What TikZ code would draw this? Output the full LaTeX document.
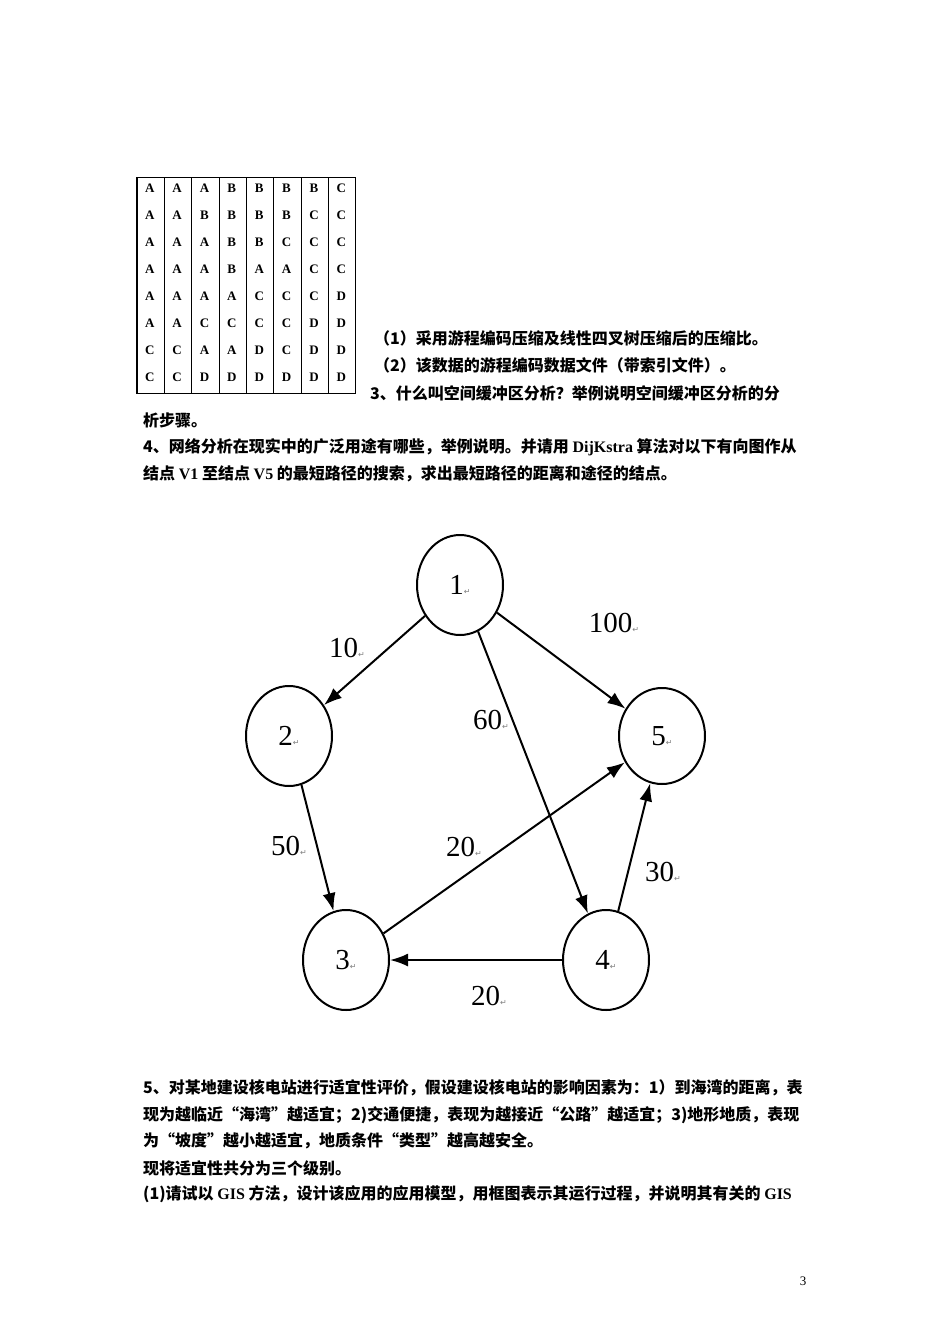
\documentclass[tikz,border=0pt]{standalone}
\usepackage{fontspec}
\usetikzlibrary{shapes.geometric,arrows.meta}
\setmainfont{Liberation Serif}
\newfontfamily\cjk{Noto Sans CJK SC}
\newfontfamily\dv{DejaVu Sans}
\newcommand{\rt}{{\dv\fontsize{8}{8}\selectfont\textcolor{gray}{↵}}}
\begin{document}
\begin{tikzpicture}[x=1pt,y=-1pt,
  txt/.style={anchor=west,inner sep=0pt,font=\cjk\bfseries\fontsize{16}{16}\selectfont},
  cell/.style={inner sep=0pt,font=\bfseries\fontsize{13}{13}\selectfont},
  vert/.style={draw,line width=2pt,ellipse,minimum width=86pt,minimum height=100pt,inner sep=0pt,font=\fontsize{29}{29}\selectfont},
  edge/.style={line width=2pt,-{Latex[length=18pt,width=13pt]}},
  wl/.style={inner sep=0pt,font=\fontsize{29}{29}\selectfont}]
\useasboundingbox (0,0) rectangle (950,1344);
\fill[white] (0,0) rectangle (950,1344);
% table
\draw[line width=0.6pt] (136,177) grid[xstep=27.375,ystep=27] (355,393);
\draw[line width=0.6pt] (136,177) rectangle (355,393);
\foreach \r/\s in {0/{A,A,A,B,B,B,B,C},1/{A,A,B,B,B,B,C,C},2/{A,A,A,B,B,C,C,C},3/{A,A,A,B,A,A,C,C},4/{A,A,A,A,C,C,C,D},5/{A,A,C,C,C,C,D,D},6/{C,C,A,A,D,C,D,D},7/{C,C,D,D,D,D,D,D}}{
  \foreach \l [count=\c from 0] in \s{
    \node[cell] (t\r\c) at ({136+27.375*\c+13.7},{177+27*\r+11}) {\l};
  }
}
% texts
\node[txt] (q1) at (374,338) {（1）采用游程编码压缩及线性四叉树压缩后的压缩比。};
\node[txt] (q2) at (374,365) {（2）该数据的游程编码数据文件（带索引文件）。};
\node[txt] (q3) at (370,393) {3、什么叫空间缓冲区分析？举例说明空间缓冲区分析的分};
\node[txt] (q3b) at (143,420) {析步骤。};
\node[txt] (q4) at (143,447) {4、网络分析在现实中的广泛用途有哪些，举例说明。并请用 \textrm{DijKstra} 算法对以下有向图作从};
\node[txt] (q4b) at (143,474) {结点 \textrm{V1} 至结点 \textrm{V5} 的最短路径的搜索，求出最短路径的距离和途径的结点。};
% graph
\node[vert] (n1) at (460,585) {1\rt};
\node[vert] (n2) at (289,736) {2\rt};
\node[vert,minimum height=96pt] (n5) at (662,736) {5\rt};
\node[vert] (n3) at (346,960) {3\rt};
\node[vert] (n4) at (606,960) {4\rt};
\draw[edge] (n1) -- (n2);
\draw[edge] (n1) -- (n5);
\draw[edge] (n1) -- (n4);
\draw[edge] (n2) -- (n3);
\draw[edge] (n3) -- (n5);
\draw[edge] (n4) -- (n3);
\draw[edge] (n4) -- (n5);
\node[wl] (w12) at (347,648) {10\rt};
\node[wl] (w15) at (614,623) {100\rt};
\node[wl] (w14) at (491,720) {60\rt};
\node[wl] (w23) at (289,846) {50\rt};
\node[wl] (w35) at (464,847) {20\rt};
\node[wl] (w45) at (663,872) {30\rt};
\node[wl] (w43) at (489,996) {20\rt};
% bottom text
\node[txt] (p1) at (143,1088) {5、对某地建设核电站进行适宜性评价，假设建设核电站的影响因素为：1）到海湾的距离，表};
\node[txt] (p2) at (143,1115) {现为越临近“海湾”越适宜；2)交通便捷，表现为越接近“公路”越适宜；3)地形地质，表现};
\node[txt] (p3) at (143,1141) {为“坡度”越小越适宜，地质条件“类型”越高越安全。};
\node[txt] (p4) at (143,1168) {现将适宜性共分为三个级别。};
\node[txt] (p5) at (143,1194) {(1)请试以 \textrm{GIS} 方法，设计该应用的应用模型，用框图表示其运行过程，并说明其有关的 \textrm{GIS}};
\node[inner sep=0pt,font=\fontsize{13}{13}\selectfont] (pg) at (803,1281) {3};
\end{tikzpicture}
\end{document}
